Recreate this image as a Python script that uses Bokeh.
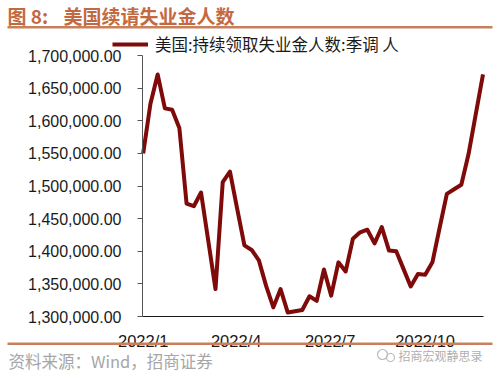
import pandas as pd
from bokeh.plotting import figure
from bokeh.models import (Range1d, NumeralTickFormatter, FixedTicker, DatetimeTickFormatter,
                          Label, BoxAnnotation, Legend, LegendItem, ColumnDataSource)
from bokeh.embed import file_html
from bokeh.resources import INLINE

# ---- data ----
start_date = "2022-01-01"
claims = [1550000, 1626000, 1671000, 1619000, 1617000, 1589000, 1473000, 1469000,
          1490000, 1416000, 1342000, 1506000, 1522000, 1465000, 1409000, 1402000,
          1386000, 1347000, 1314000, 1342000, 1306000, 1308000, 1310000, 1331000,
          1324000, 1372000, 1332000, 1383000, 1369000, 1419000, 1429000, 1433000,
          1412000, 1437000, 1401000, 1400000, 1373000, 1346000, 1365000, 1364000,
          1383000, 1436000, 1488000, 1495000, 1502000, 1549000, 1610000, 1671000]
x_tick_dates = ["2022-01-01", "2022-04-01", "2022-07-01", "2022-10-01"]
y_ticks = [1300000, 1350000, 1400000, 1450000, 1500000, 1550000, 1600000, 1650000, 1700000]
y_min, y_max = 1300000, 1700000
series_name = "美国:持续领取失业金人数:季调 人"
title_head = "图 8:"
title_text = "美国续请失业金人数"
source_text = "资料来源：Wind，招商证券"
watermark_text = "招商宏观静思录"

# ---- layout geometry (canvas pixels) ----
W, H = 500, 377
AX_L, AX_R = 142, 483          # x-axis extent
AX_TOP, AX_BOT = 55, 316       # y of y_max / y_min
FIRST_X, STEP_X = 142.7, 7.23  # px of first weekly point, px per week
WEEK_MS = 7 * 86400000

dates = pd.date_range(start_date, periods=len(claims), freq="7D")
d0 = dates[0].value // 10**6


def cx(px):
    return d0 + (px - FIRST_X) / STEP_X * WEEK_MS


def cy(py):
    return y_min + (AX_BOT - py) / (AX_BOT - AX_TOP) * (y_max - y_min)


src = ColumnDataSource(dict(x=dates, y=claims))

p = figure(width=W, height=H, output_backend="svg", toolbar_location=None,
           x_axis_type="datetime",
           x_range=Range1d(cx(0), cx(W)), y_range=Range1d(cy(H), cy(0)),
           min_border=0, min_border_left=0, min_border_right=0,
           min_border_top=0, min_border_bottom=0)
p.outline_line_color = None
p.xgrid.visible = False
p.ygrid.visible = False
p.background_fill_color = "white"
p.border_fill_color = "white"

r = p.line("x", "y", source=src, line_color="#7E0A0A", line_width=4, line_join="round")

# y axis (drawn at a fixed place inside the frame)
p.yaxis.fixed_location = cx(AX_L)
p.yaxis.bounds = (y_min, y_max)
p.yaxis.ticker = FixedTicker(ticks=y_ticks)
p.yaxis.formatter = NumeralTickFormatter(format="0,0.00")
p.yaxis.major_label_text_font = "Liberation Sans"
p.yaxis.major_label_text_font_size = "16px"
p.yaxis.major_label_text_color = "#1a1a1a"
p.yaxis.axis_line_color = "#555555"
p.yaxis.major_tick_line_color = "#555555"
p.yaxis.major_tick_out = 5
p.yaxis.major_tick_in = 0
p.yaxis.minor_tick_line_color = None
p.yaxis.major_label_standoff = 16

# x axis
tick_ms = [pd.Timestamp(d).value // 10**6 for d in x_tick_dates]
p.xaxis.fixed_location = y_min
p.xaxis.bounds = (cx(AX_L), cx(AX_R))
p.xaxis.ticker = FixedTicker(ticks=tick_ms)
p.xaxis.formatter = DatetimeTickFormatter(days="%Y/%-m", months="%Y/%-m", years="%Y/%-m")
p.xaxis.major_label_text_font = "Liberation Sans"
p.xaxis.major_label_text_font_size = "16.5px"
p.xaxis.major_label_text_color = "#1a1a1a"
p.xaxis.axis_line_color = "#1a1a1a"
p.xaxis.major_tick_line_color = None
p.xaxis.major_tick_out = 0
p.xaxis.minor_tick_line_color = None
p.xaxis.major_label_standoff = 15

# legend
legend = Legend(items=[LegendItem(label=series_name, renderers=[r])],
                location=(112, H - 56), orientation="horizontal",
                glyph_width=36, glyph_height=20, label_standoff=7, label_height=20,
                label_text_font="Noto Sans CJK SC", label_text_font_size="16.5px",
                label_text_color="#1a1a1a", padding=0, margin=0, spacing=0,
                border_line_alpha=0, background_fill_alpha=0)
p.add_layout(legend)

RULE = "#C8805C"
TITLE_C = "#C4693F"


def label(x, y, text, size, color, bold=False):
    p.add_layout(Label(x=x, y=H - y, x_units="screen", y_units="screen", text=text,
                       text_font="Noto Sans CJK SC", text_font_size=size,
                       text_font_style="bold" if bold else "normal",
                       text_color=color, text_baseline="middle", text_align="left"))


def rule(y0, y1):
    p.add_layout(BoxAnnotation(left=7, right=492, top=H - y0, bottom=H - y1,
                               left_units="screen", right_units="screen", top_units="screen",
                               bottom_units="screen", fill_color=RULE, fill_alpha=1,
                               line_color=None))


label(7, 15, title_head, "19px", TITLE_C, bold=True)
label(63, 15, title_text, "19px", TITLE_C, bold=True)
rule(25.5, 28)
rule(342, 344.5)
label(8, 360, source_text, "16.5px", "#A6A6A6")
label(398, 355, watermark_text, "12px", "#AFAFAF")
p.scatter(x=[cx(382), cx(390)], y=[cy(354), cy(357)], size=[10, 8], marker="circle",
          fill_color=None, line_color="#BBBBBB", line_width=1.2)

open("out.html", "w").write(file_html(p, INLINE))
